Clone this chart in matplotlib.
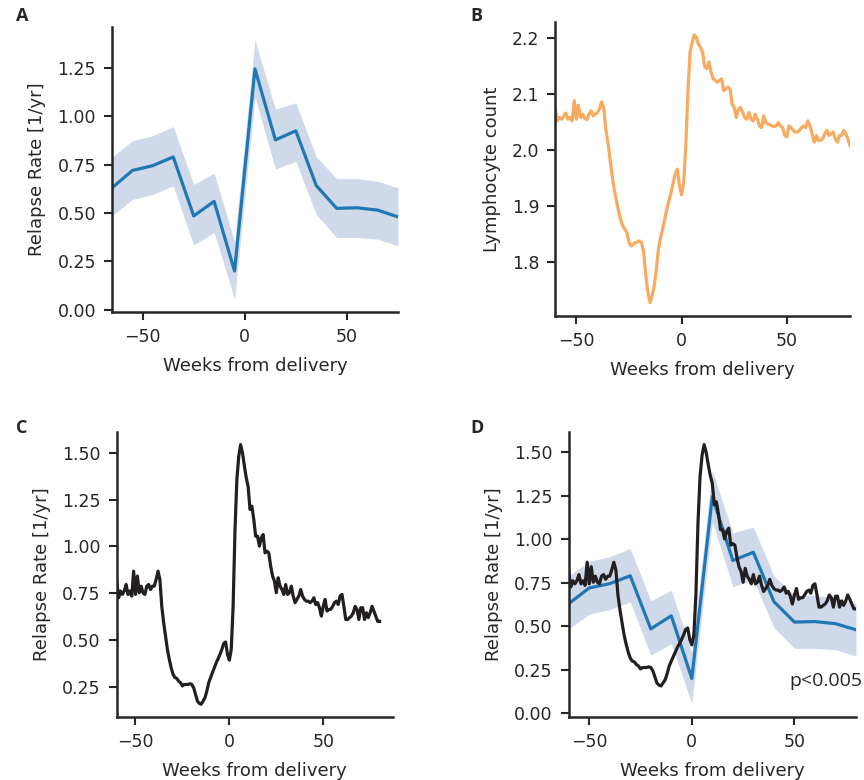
import numpy as np
import matplotlib
matplotlib.use("Agg")
import matplotlib.pyplot as plt

# ---- data ----
# panel A: binned relapse rate (10-week bins) with confidence band
bin_weeks = [-65, -55, -45, -35, -25, -15, -5, 5, 15, 25, 35, 45, 55, 65, 75]
bin_rate = [0.63, 0.72, 0.745, 0.79, 0.485, 0.56, 0.20, 1.245, 0.878, 0.925,
            0.642, 0.524, 0.527, 0.515, 0.48]
bin_lower = [0.485, 0.57, 0.596, 0.64, 0.334, 0.40, 0.055, 1.10, 0.728, 0.767,
             0.493, 0.373, 0.373, 0.365, 0.33]
bin_upper = [0.79, 0.873, 0.90, 0.947, 0.647, 0.707, 0.35, 1.395, 1.036, 1.07,
             0.79, 0.678, 0.678, 0.664, 0.63]

# panels B-D: weekly series, weeks -60 .. 80
weeks = list(range(-60, 81))

lymphocytes = [
    2.073, 2.052, 2.058, 2.055, 2.060, 2.066, 2.055, 2.058, 2.052, 2.088,
    2.055, 2.080, 2.058, 2.064, 2.057, 2.054, 2.064, 2.070, 2.061, 2.064,
    2.067, 2.073, 2.086, 2.076, 2.037, 2.014, 1.984, 1.954, 1.930, 1.910,
    1.892, 1.877, 1.865, 1.859, 1.853, 1.836, 1.829, 1.832, 1.835, 1.836,
    1.838, 1.835, 1.817, 1.776, 1.746, 1.728, 1.740, 1.758, 1.788, 1.823,
    1.844, 1.859, 1.877, 1.895, 1.910, 1.924, 1.942, 1.957, 1.966, 1.936,
    1.920, 1.942, 2.008, 2.103, 2.174, 2.192, 2.205, 2.201, 2.189, 2.183,
    2.174, 2.148, 2.145, 2.157, 2.139, 2.127, 2.124, 2.121, 2.124, 2.127,
    2.106, 2.109, 2.112, 2.109, 2.082, 2.076, 2.058, 2.073, 2.076, 2.067,
    2.058, 2.055, 2.067, 2.055, 2.052, 2.064, 2.055, 2.043, 2.040, 2.061,
    2.049, 2.046, 2.045, 2.043, 2.042, 2.043, 2.049, 2.043, 2.040, 2.026,
    2.023, 2.043, 2.040, 2.035, 2.032, 2.032, 2.035, 2.040, 2.043, 2.040,
    2.052, 2.043, 2.029, 2.014, 2.026, 2.017, 2.017, 2.020, 2.029, 2.035,
    2.026, 2.029, 2.032, 2.020, 2.014, 2.026, 2.026, 2.035, 2.029, 2.020,
    2.008,
]

predicted_rate = [
    0.815, 0.726, 0.762, 0.744, 0.762, 0.797, 0.744, 0.762, 0.735, 0.868,
    0.744, 0.842, 0.753, 0.788, 0.753, 0.744, 0.788, 0.797, 0.770, 0.788,
    0.788, 0.824, 0.868, 0.824, 0.680, 0.593, 0.520, 0.450, 0.397, 0.352,
    0.317, 0.300, 0.295, 0.280, 0.272, 0.255, 0.263, 0.263, 0.263, 0.267,
    0.263, 0.245, 0.210, 0.174, 0.162, 0.157, 0.174, 0.192, 0.228, 0.272,
    0.300, 0.326, 0.352, 0.379, 0.400, 0.424, 0.450, 0.482, 0.490, 0.424,
    0.393, 0.450, 0.680, 1.090, 1.358, 1.482, 1.544, 1.500, 1.430, 1.367,
    1.320, 1.198, 1.215, 1.144, 1.055, 1.055, 1.002, 1.046, 1.064, 0.966,
    0.975, 0.966, 0.895, 0.842, 0.815, 0.753, 0.833, 0.788, 0.770, 0.744,
    0.797, 0.744, 0.753, 0.788, 0.735, 0.700, 0.717, 0.735, 0.770, 0.735,
    0.717, 0.708, 0.708, 0.700, 0.708, 0.726, 0.690, 0.700, 0.673, 0.628,
    0.680, 0.717, 0.655, 0.664, 0.664, 0.680, 0.700, 0.708, 0.690, 0.735,
    0.744, 0.680, 0.610, 0.610, 0.620, 0.628, 0.646, 0.680, 0.664, 0.610,
    0.673, 0.673, 0.610, 0.646, 0.620, 0.646, 0.680, 0.655, 0.628, 0.600,
    0.600,
]

# in panel D the binned curve is aligned to the weekly series
shift_d = 5
p_text = "p<0.005"

# ---- style ----
ink = "#262626"
blue = "#1f77b4"
band = "#cfd9ea"
orange = "#f8aa60"
black = "#231f20"

plt.rcParams.update({
    "font.family": "DejaVu Sans",
    "text.color": ink,
    "axes.labelcolor": ink,
    "axes.edgecolor": ink,
    "xtick.color": ink,
    "ytick.color": ink,
    "axes.linewidth": 1.8,
    "xtick.major.width": 1.5,
    "ytick.major.width": 1.5,
    "xtick.major.size": 5.5,
    "ytick.major.size": 5.5,
    "xtick.major.pad": 6,
    "ytick.major.pad": 6,
    "xtick.labelsize": 12.5,
    "ytick.labelsize": 12.5,
    "axes.labelsize": 13,
    "axes.labelpad": 8,
})


def style(ax, ylabel):
    ax.spines["top"].set_visible(False)
    ax.spines["right"].set_visible(False)
    ax.set_xlabel("Weeks from delivery")
    ax.set_ylabel(ylabel)
    ax.set_xticks([-50, 0, 50])


fig = plt.figure(figsize=(8.64, 7.8), dpi=100)

ax_a = fig.add_axes([0.1296, 0.600, 0.331, 0.3654])
ax_b = fig.add_axes([0.6427, 0.5949, 0.3411, 0.3773])
ax_c = fig.add_axes([0.1351, 0.0804, 0.3194, 0.3662])
ax_d = fig.add_axes([0.6582, 0.0812, 0.3325, 0.3654])

# A
ax_a.fill_between(bin_weeks, bin_lower, bin_upper, color=band, lw=0)
ax_a.plot(bin_weeks, bin_rate, color=blue, lw=2.3)
ax_a.set_xlim(bin_weeks[0], bin_weeks[-1])
ax_a.set_yticks([0, 0.25, 0.5, 0.75, 1.0, 1.25])
style(ax_a, "Relapse Rate [1/yr]")

# B
ax_b.plot(weeks, lymphocytes, color=orange, lw=2.3)
ax_b.set_xlim(weeks[0], weeks[-1])
ax_b.set_yticks([1.8, 1.9, 2.0, 2.1, 2.2])
style(ax_b, "Lymphocyte count")

# C
ax_c.plot(weeks, predicted_rate, color=black, lw=2.3)
ax_c.set_xlim(weeks[0], 87)
ax_c.set_yticks([0.25, 0.5, 0.75, 1.0, 1.25, 1.5])
style(ax_c, "Relapse Rate [1/yr]")

# D
weeks_d = [w + shift_d for w in bin_weeks]
ax_d.fill_between(weeks_d, bin_lower, bin_upper, color=band, lw=0)
ax_d.plot(weeks_d, bin_rate, color=blue, lw=2.3)
ax_d.plot(weeks, predicted_rate, color=black, lw=2.3)
ax_d.set_xlim(weeks[0], weeks[-1])
ax_d.set_yticks([0, 0.25, 0.5, 0.75, 1.0, 1.25, 1.5])
style(ax_d, "Relapse Rate [1/yr]")
ax_d.text(1.022, 0.108, p_text, transform=ax_d.transAxes, ha="right",
          va="baseline", fontsize=14, family="Open Sans")

# panel letters
for x, y, s in [(22, 16, "A"), (476, 16, "B"), (22, 428, "C"), (477, 428, "D")]:
    fig.text(x / 864, 1 - y / 780, s, ha="center", va="center",
             fontsize=13, fontweight="bold", family="Open Sans")

fig.savefig("out.png", dpi=100)
